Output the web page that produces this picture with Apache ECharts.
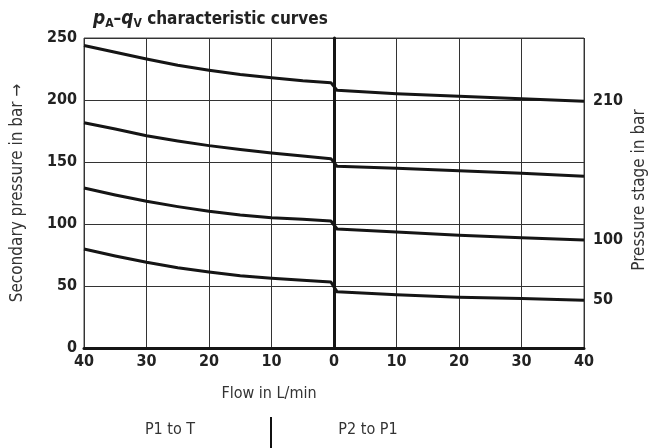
<html>
<head>
    <meta charset="utf-8">
    <title>pA-qV characteristic curves</title>
    <script src="https://cdn.jsdelivr.net/npm/echarts@6/dist/echarts.min.js"></script>
</head>
<body style="margin:0">
    <div id="main" style="width: 654px;height:448px;"></div>
    <script type="text/javascript">
        // flow in L/min: negative = P1 to T (left half), positive = P2 to P1
        var flow = [-40, -35, -30, -25, -20, -15, -10, -5, -0.5, 0.5, 10, 20, 30, 40];
        var stage210 = [244, 238.5, 233, 228, 224, 220.5, 218, 215.6, 214, 207.8, 205, 203, 201, 199];
        var stage150 = [181.7, 176.6, 171.2, 167, 163.2, 160, 157.3, 154.8, 152.7, 146.5, 145, 143, 141, 138.5];
        var stage100 = [129, 123.4, 118.3, 114, 110.2, 107.3, 105.1, 103.8, 102.4, 96, 93.5, 91, 89, 87];
        var stage50 = [79.8, 74.2, 69.1, 64.8, 61.3, 58.3, 56.2, 54.6, 53.2, 45.3, 43, 41, 40, 38.5];
        var stageLabels = ['210', '', '100', '50'];
        var yTicks = [0, 50, 100, 150, 200, 250];

        var FONT = "'Liberation Sans Narrow', 'DejaVu Sans Condensed', 'Open Sans', sans-serif";
        var myChart = echarts.init(document.getElementById('main'));

        function pairs(ys) {
            return flow.map(function (x, i) { return [x, ys[i]]; });
        }

        var curves = [stage210, stage150, stage100, stage50];
        var series = curves.map(function (ys, i) {
            return {
                type: 'line',
                data: pairs(ys),
                smooth: false,
                symbol: 'none',
                lineStyle: { color: '#151515', width: 3, join: 'round' },
                endLabel: {
                    show: stageLabels[i] !== '',
                    formatter: stageLabels[i],
                    fontFamily: FONT,
                    fontWeight: 'bold',
                    fontSize: 16,
                    color: '#222',
                    distance: 9
                },
                silent: true
            };
        });
        // thick line at zero flow
        series[0].markLine = {
            symbol: 'none',
            silent: true,
            label: { show: false },
            lineStyle: { color: '#151515', width: 3, type: 'solid' },
            data: [{ xAxis: 0 }]
        };

        option = {
            animation: false,
            title: {
                text: '{p|p}{sub|A}{n|–}{p|q}{sub|V}{n| characteristic curves}',
                left: 88,
                top: 4,
                textStyle: {
                    rich: {
                        p: { fontFamily: FONT, fontSize: 19, fontWeight: 'bold', fontStyle: 'italic', color: '#222' },
                        sub: { fontFamily: FONT, fontSize: 12, fontWeight: 'bold', color: '#222', padding: [9, 0, 0, 0] },
                        n: { fontFamily: FONT, fontSize: 17, fontWeight: 'bold', color: '#222' }
                    }
                }
            },
            grid: {
                left: 84, right: 70, top: 38, bottom: 100,
                show: true, borderColor: '#444', borderWidth: 1
            },
            xAxis: {
                type: 'value',
                min: -40, max: 40, interval: 10,
                name: 'Flow in L/min',
                nameLocation: 'middle',
                nameGap: 38,
                nameTextStyle: { fontFamily: FONT, fontSize: 16, color: '#333', padding: [0, 130, 0, 0] },
                axisLine: { show: true, lineStyle: { color: '#151515', width: 3 } },
                axisTick: { show: false },
                axisLabel: {
                    fontFamily: FONT, fontSize: 16, fontWeight: 'bold', color: '#222', margin: 6,
                    formatter: function (v) { return Math.abs(v); }
                },
                splitLine: { show: true, lineStyle: { color: '#333', width: 1 } }
            },
            yAxis: {
                type: 'value',
                min: yTicks[0], max: yTicks[yTicks.length - 1], interval: 50,
                name: 'Secondary pressure in bar →',
                nameLocation: 'middle',
                nameGap: 58,
                nameTextStyle: { fontFamily: FONT, fontSize: 17, color: '#333', padding: [0, 0, 0, 0] },
                axisLine: { show: true, lineStyle: { color: '#151515', width: 3 } },
                axisTick: { show: false },
                axisLabel: { fontFamily: FONT, fontSize: 16, fontWeight: 'bold', color: '#222', margin: 7 },
                splitLine: { show: true, lineStyle: { color: '#333', width: 1 } }
            },
            graphic: [
                {
                    type: 'text', x: 640, y: 190, rotation: Math.PI / 2,
                    style: { text: 'Pressure stage in bar', fontFamily: FONT, fontSize: 17, fill: '#333', align: 'center', verticalAlign: 'middle' }
                },
                {
                    type: 'text', x: 170, y: 430,
                    style: { text: 'P1 to T', fontFamily: FONT, fontSize: 16, fill: '#333', align: 'center', verticalAlign: 'middle' }
                },
                {
                    type: 'text', x: 368, y: 430,
                    style: { text: 'P2 to P1', fontFamily: FONT, fontSize: 16, fill: '#333', align: 'center', verticalAlign: 'middle' }
                },
                {
                    type: 'line', shape: { x1: 271, y1: 417, x2: 271, y2: 448 },
                    style: { stroke: '#111', lineWidth: 2 }
                }
            ],
            series: series
        };

        myChart.setOption(option);
    </script>
</body>
</html>
